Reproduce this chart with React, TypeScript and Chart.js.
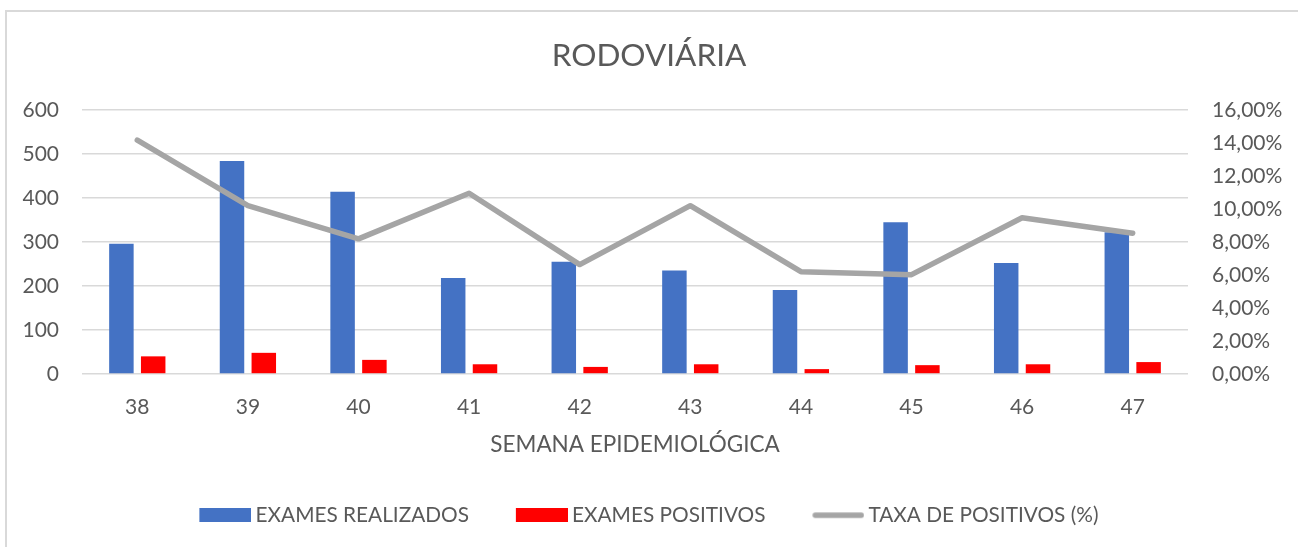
import React, { useEffect, useRef } from 'react';
import { Chart, registerables } from 'chart.js';

Chart.register(...registerables);

const chartTitle = 'RODOVIÁRIA';
const xAxisTitle = 'SEMANA EPIDEMIOLÓGICA';
const weeks = ['38', '39', '40', '41', '42', '43', '44', '45', '46', '47'];
const examesRealizados = [296, 484, 414, 218, 255, 235, 191, 345, 252, 322];
const examesPositivos = [40, 48, 32, 22, 16, 22, 11, 20, 22, 27];
const taxaPositivos = [14.17, 10.2, 8.19, 10.95, 6.63, 10.2, 6.2, 6.02, 9.47, 8.53];
const seriesNames = ['EXAMES REALIZADOS', 'EXAMES POSITIVOS', 'TAXA DE POSITIVOS (%)'];
const leftAxis = { min: 0, max: 600, step: 100 };
const rightAxis = { min: 0, max: 16, step: 2 };

const TEXT = '#595959';
const GRID = '#d9d9d9';
const FONT = 'Lato';
const BLUE = '#4472C4';
const RED = '#FF0000';
const GRAY = '#A5A5A5';

const LEGEND_FONT = 20.8;
const LEGEND_BOX_W = 45.6;
const LEGEND_IMG_W = 58;
const LEGEND_IMG_H = 14;

function legendImage(kind: 'rect' | 'line', color: string): HTMLCanvasElement {
  const c = document.createElement('canvas');
  c.width = LEGEND_IMG_W;
  c.height = LEGEND_IMG_H;
  const ctx = c.getContext('2d')!;
  const x0 = LEGEND_IMG_W - 52;
  if (kind === 'rect') {
    ctx.fillStyle = color;
    ctx.fillRect(x0, 0, 52, LEGEND_IMG_H);
  } else {
    ctx.strokeStyle = color;
    ctx.lineWidth = 5.5;
    ctx.lineCap = 'round';
    ctx.beginPath();
    ctx.moveTo(x0 + 3, LEGEND_IMG_H / 2);
    ctx.lineTo(LEGEND_IMG_W - 3, LEGEND_IMG_H / 2);
    ctx.stroke();
  }
  return c;
}

export default function App() {
  const ref = useRef<HTMLCanvasElement | null>(null);

  useEffect(() => {
    if (!ref.current) return;
    const images = [legendImage('rect', BLUE), legendImage('rect', RED), legendImage('line', GRAY)];
    const chart = new Chart(ref.current, {
      type: 'bar',
      data: {
        labels: weeks,
        datasets: [
          {
            type: 'bar',
            label: seriesNames[0],
            data: examesRealizados,
            backgroundColor: BLUE,
            yAxisID: 'y',
            order: 1,
            categoryPercentage: 0.575,
            barPercentage: 0.77,
          },
          {
            type: 'bar',
            label: seriesNames[1],
            data: examesPositivos,
            backgroundColor: RED,
            yAxisID: 'y',
            order: 1,
            categoryPercentage: 0.575,
            barPercentage: 0.77,
          },
          {
            type: 'line',
            label: seriesNames[2],
            data: taxaPositivos,
            borderColor: GRAY,
            backgroundColor: GRAY,
            borderWidth: 5.5,
            pointRadius: 0,
            tension: 0,
            borderCapStyle: 'round',
            borderJoinStyle: 'round',
            yAxisID: 'y1',
            order: 0,
          } as any,
        ],
      },
      options: {
        responsive: false,
        animation: false,
        devicePixelRatio: 1,
        layout: { padding: { left: 0, right: 0, top: 0, bottom: 11.4 } },
        font: { family: FONT },
        plugins: {
          title: {
            display: true,
            text: chartTitle,
            color: TEXT,
            font: { family: FONT, size: 31.5, weight: 'normal', lineHeight: 1.2 },
            padding: { top: 37, bottom: 35.2 },
          },
          legend: {
            position: 'bottom',
            labels: {
              color: TEXT,
              font: { family: FONT, size: LEGEND_FONT },
              usePointStyle: true,
              pointStyleWidth: LEGEND_BOX_W,
              boxHeight: 14,
              padding: 47,
              sort: (a: any, b: any) => a.datasetIndex - b.datasetIndex,
              generateLabels: (c: any) => {
                const items = Chart.defaults.plugins.legend.labels.generateLabels(c);
                return items.map((it: any) => ({ ...it, pointStyle: images[it.datasetIndex], lineWidth: 0 }));
              },
            },
          },
          tooltip: { enabled: false },
        },
        scales: {
          x: {
            grid: { display: false },
            border: { display: false },
            ticks: { color: TEXT, font: { family: FONT, size: 21, lineHeight: 1.2 }, padding: 13 },
            title: {
              display: true,
              text: xAxisTitle,
              color: TEXT,
              font: { family: FONT, size: 22.5, lineHeight: 1.2 },
              padding: { top: 0, bottom: 0 },
            },
            afterFit: (s: any) => { s.height = 83.85; },
          },
          y: {
            position: 'left',
            min: leftAxis.min,
            max: leftAxis.max,
            grid: { color: GRID, lineWidth: 1.5, drawTicks: false },
            border: { display: false },
            ticks: { stepSize: leftAxis.step, color: TEXT, font: { family: FONT, size: 21 }, padding: 23 },
            afterFit: (s: any) => { s.width = 82; },
          },
          y1: {
            position: 'right',
            min: rightAxis.min,
            max: rightAxis.max,
            grid: { display: false, drawTicks: false },
            border: { display: false },
            ticks: {
              stepSize: rightAxis.step,
              color: TEXT,
              font: { family: FONT, size: 21 },
              padding: 24,
              callback: (v: any) => Number(v).toFixed(2).replace('.', ',') + '%',
            },
            afterFit: (s: any) => { s.width = 110; },
          },
        },
      } as any,
    });
    return () => chart.destroy();
  }, []);

  return (
    <div style={{ position: 'fixed', left: 0, top: 0, width: 1298, height: 547, background: '#fff', overflow: 'hidden' }}>
      <div style={{ position: 'absolute', left: 5, top: 10, width: 1400, height: 700, border: '2px solid #d9d9d9' }} />
      <canvas ref={ref} width={1298} height={547} style={{ position: 'absolute', left: 0, top: 0, width: 1298, height: 547 }} />
    </div>
  );
}
